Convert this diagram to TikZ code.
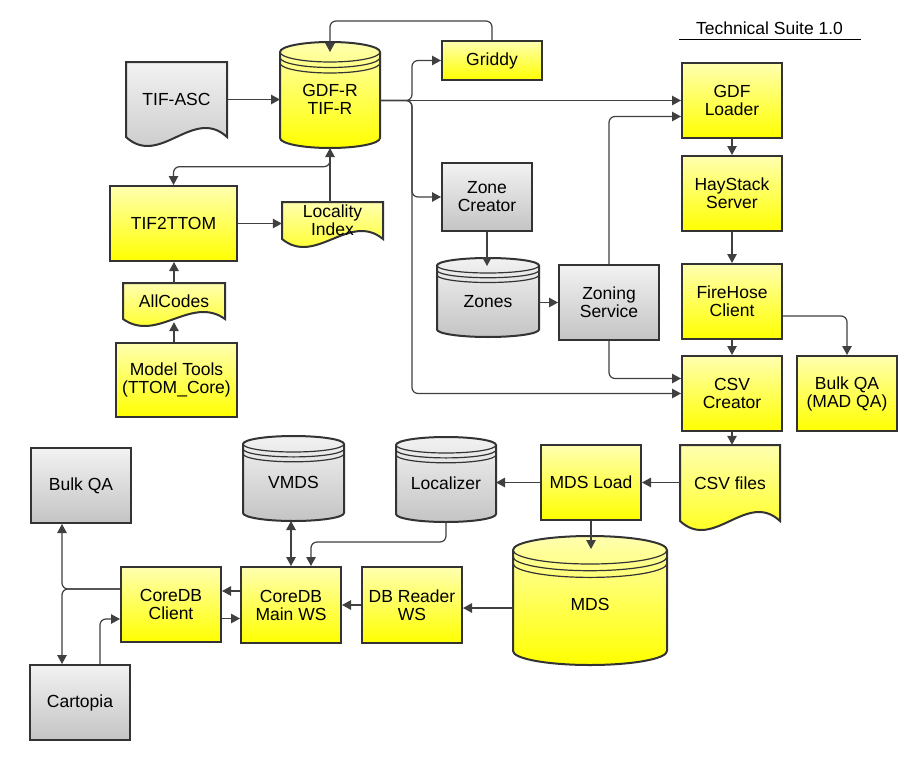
\documentclass[tikz,border=0pt]{standalone}
\usepackage{fontspec}
\setmainfont{Liberation Sans}
\usetikzlibrary{arrows.meta,calc}
\definecolor{yelT}{HTML}{FFFFB0}
\definecolor{yelB}{HTML}{FFFF00}
\definecolor{gryT}{HTML}{F2F2F2}
\definecolor{gryB}{HTML}{C4C4C4}
\definecolor{edgec}{HTML}{333333}
\definecolor{wirec}{HTML}{404040}
\tikzset{
  yel/.style={top color=yelT, bottom color=yelB, draw=edgec, line width=2pt},
  gry/.style={top color=gryT, bottom color=gryB, draw=edgec, line width=2pt},
  lbl/.style={font=\fontsize{17.5}{18}\selectfont, align=center, text=black, inner sep=0pt},
  frame/.style={inner sep=0pt, outer sep=0pt},
  rim/.style={draw=edgec, line width=1.2pt},
  >={Triangle[length=9pt,width=9.5pt]},
  conn/.style={draw=wirec, line width=1.2pt, rounded corners=6pt, ->},
  conn2/.style={draw=wirec, line width=1.2pt, rounded corners=6pt, <->},
}
% rectangle box: name, x1, y1, x2, y2, style, text
\newcommand\BoxN[7]{%
  \pgfmathsetmacro\rsW{#4-#2}\pgfmathsetmacro\rsH{#5-#3}%
  \node[#6, lbl, minimum width=\rsW pt, minimum height=\rsH pt] (#1) at ({(#2+#4)/2},{(#3+#5)/2}) {#7};%
}
% cylinder: name, x1, y1, x2, y2, ry, style, text
\newcommand\CylN[8]{%
  \pgfmathsetmacro\rsCx{(#2+#4)/2}%
  \pgfmathsetmacro\rsCy{(#3+#5)/2}%
  \pgfmathsetmacro\rsRx{(#4-#2)/2}%
  \pgfmathsetmacro\rsKx{0.5523*\rsRx}%
  \pgfmathsetmacro\rsKy{0.5523*#6}%
  \pgfmathsetmacro\rsYt{#3+#6}%
  \pgfmathsetmacro\rsYb{#5-#6}%
  \pgfmathsetmacro\rsSp{2.5+0.3*#6}%
  \pgfmathsetmacro\rsW{#4-#2}\pgfmathsetmacro\rsH{#5-#3}%
  \path[#7] (#2,\rsYt) -- (#2,\rsYb)
    .. controls (#2,\rsYb+\rsKy) and (\rsCx-\rsKx,#5) .. (\rsCx,#5)
    .. controls (\rsCx+\rsKx,#5) and (#4,\rsYb+\rsKy) .. (#4,\rsYb)
    -- (#4,\rsYt)
    .. controls (#4,\rsYt-\rsKy) and (\rsCx+\rsKx,#3) .. (\rsCx,#3)
    .. controls (\rsCx-\rsKx,#3) and (#2,\rsYt-\rsKy) .. (#2,\rsYt) -- cycle;
  \foreach \rsD in {0,1,2}{%
    \pgfmathsetmacro\rsY{\rsYt+\rsD*\rsSp}%
    \path[rim] (#2,\rsY)
      .. controls (#2,\rsY+\rsKy) and (\rsCx-\rsKx,\rsY+#6) .. (\rsCx,\rsY+#6)
      .. controls (\rsCx+\rsKx,\rsY+#6) and (#4,\rsY+\rsKy) .. (#4,\rsY);
  }%
  \node[frame, minimum width=\rsW pt, minimum height=\rsH pt] (#1) at (\rsCx,\rsCy) {};%
  \node[lbl] at ([yshift=-4pt]#1.center) {#8};%
}
% document: name, x1, y1, x2, B, amplitude, style, text
\newcommand\DocN[8]{%
  \pgfmathsetmacro\rsW{#4-#2}\pgfmathsetmacro\rsH{#5-#3}%
  \pgfmathsetmacro\rsK{3.46*#6}%
  \path[#7] (#2,#3) -- (#4,#3) -- (#4,#5)
    .. controls (#4-\rsW/3,#5-\rsK) and (#2+\rsW/3,#5+\rsK) .. (#2,#5) -- cycle;
  \node[lbl, minimum width=\rsW pt, minimum height=\rsH pt] (#1) at ({(#2+#4)/2},{(#3+#5)/2}) {#8};%
}
\begin{document}
\begin{tikzpicture}[x=1pt,y=-1pt]
\fill[white] (0,0) rectangle (917,760);
\useasboundingbox (0,0) rectangle (917,760);

% title
\node[lbl] (title) at (769.5,28.7) {Technical Suite 1.0};
\draw[draw=black, line width=1pt] (679.3,39.3) -- (860.7,39.3);

% shapes
\DocN{tifasc}{126}{62}{227}{137}{9}{gry}{TIF-ASC}
\CylN{gdfr}{280}{42}{380}{148}{10}{yel}{GDF-R\\TIF-R}
\BoxN{griddy}{442}{41}{542}{80}{yel}{Griddy}
\BoxN{zonecreator}{442}{163}{532}{231}{gry}{Zone\\Creator}
\BoxN{tiftotom}{110}{186}{237}{261}{yel}{TIF2TTOM}
\DocN{locality}{282}{202}{383}{239}{8}{yel}{Locality\\Index}
\DocN{allcodes}{123}{283}{225}{319}{7}{yel}{AllCodes}
\BoxN{modeltools}{116}{343}{237}{417}{yel}{Model Tools\\(TTOM\_Core)}
\CylN{zones}{437}{258}{539}{337}{7.5}{gry}{Zones}
\BoxN{zoning}{559}{265}{659}{340}{gry}{Zoning\\Service}
\BoxN{gdfloader}{682}{63}{782}{138}{yel}{GDF\\Loader}
\BoxN{haystack}{682}{156}{782}{231}{yel}{HayStack\\Server}
\BoxN{firehose}{682}{264}{782}{339}{yel}{FireHose\\Client}
\BoxN{csvcreator}{682}{356}{782}{431}{yel}{CSV\\Creator}
\BoxN{bulkmad}{797}{356}{897}{431}{yel}{Bulk QA\\(MAD QA)}
\DocN{csvfiles}{680}{445}{780}{521}{9}{yel}{CSV files}
\BoxN{mdsload}{541}{445}{641}{520}{yel}{MDS Load}
\CylN{localizer}{396}{437}{496}{522}{8}{gry}{Localizer}
\CylN{mds}{513}{536}{667}{665}{14}{yel}{MDS}
\BoxN{dbreader}{362}{567}{462}{643}{yel}{DB Reader\\WS}
\BoxN{coremain}{241}{567}{341}{643}{yel}{CoreDB\\Main WS}
\BoxN{coreclient}{121}{567}{221}{642}{yel}{CoreDB\\Client}
\CylN{vmds}{243}{436}{344}{521}{8}{gry}{VMDS}
\BoxN{bulkqa}{31}{448}{131}{523}{gry}{Bulk QA}
\BoxN{cartopia}{30}{665}{130}{740}{gry}{Cartopia}

% junction coordinate of the GDF-R bus
\coordinate (bus) at (412,0);

% connectors
\draw[conn] (griddy.north) |- ([yshift=21pt]gdfr.north) -- ([yshift=-10pt]gdfr.north);
\draw[conn] (tifasc.east) -- (tifasc.east -| gdfr.west);
\draw[conn] (gdfloader.west -| gdfr.east) -- (gdfloader.west);
\draw[conn] (gdfloader.west -| gdfr.east) -- (bus |- gdfloader.west) |- (griddy.west);
\draw[conn] (gdfloader.west -| gdfr.east) -- (bus |- gdfloader.west) |- (zonecreator.west);
\draw[conn] (gdfloader.west -| gdfr.east) -- (bus |- gdfloader.west) |- (csvcreator.west);
\draw[conn] (zoning.north) |- ([yshift=-16pt]gdfloader.west);
\draw[conn] (zoning.south) |- ([yshift=15pt]csvcreator.west);
\draw[conn] (zonecreator.south) -- ([yshift=-8pt]zonecreator.south |- zones.north);
\draw[conn] (zoning.west -| zones.east) -- (zoning.west);
\draw[conn] (gdfloader.south) -- (haystack.north);
\draw[conn] (haystack.south) -- (firehose.north);
\draw[conn] (firehose.south) -- (csvcreator.north);
\draw[conn] ([yshift=-14.5pt]firehose.east) -| (bulkmad.north);
\draw[conn] (csvcreator.south) -- (csvcreator.south |- csvfiles.north);
\draw[conn] (mdsload.east -| csvfiles.west) -- (mdsload.east);
\draw[conn] (mdsload.west) -- (mdsload.west -| localizer.east);
\draw[conn] (mdsload.south) -- ([yshift=-13pt]mdsload.south |- mds.north);
\draw[conn] ([yshift=-3pt]dbreader.east -| mds.west) -- ([yshift=-3pt]dbreader.east);
\draw[conn] (dbreader.west) -- (dbreader.west -| coremain.east);
\draw[conn] ([yshift=14pt]coremain.west) -- ([yshift=14pt]coremain.west -| coreclient.east);
\draw[conn] ([yshift=-14pt]coreclient.east) -- ([yshift=-14pt]coreclient.east -| coremain.west);
\draw[conn2] (coremain.north |- vmds.south) -- (coremain.north);
\draw[conn] (localizer.south) |- ([xshift=20pt,yshift=24pt]coremain.north) -- ([xshift=20pt]coremain.north);
\draw[conn] ([yshift=15.5pt]coreclient.west) -| ([xshift=-19pt]bulkqa.south);
\draw[conn] ([yshift=15.5pt]coreclient.west) -| ([xshift=-18pt]cartopia.north);
\draw[conn] ([xshift=20pt]cartopia.north) |- ([yshift=-14.5pt]coreclient.west);
\draw[conn] (gdfr.south |- locality.north) -- (gdfr.south);
\draw[conn] ([yshift=-10pt]gdfr.south) -- ([yshift=-18.7pt]gdfr.south) -| (tiftotom.north);
\draw[conn] (tiftotom.east) -- (tiftotom.east -| locality.west);
\draw[conn] (allcodes.north) -- (allcodes.north |- tiftotom.south);
\draw[conn] (modeltools.north -| allcodes.north) -- ([yshift=-3pt]allcodes.south);
\end{tikzpicture}
\end{document}
